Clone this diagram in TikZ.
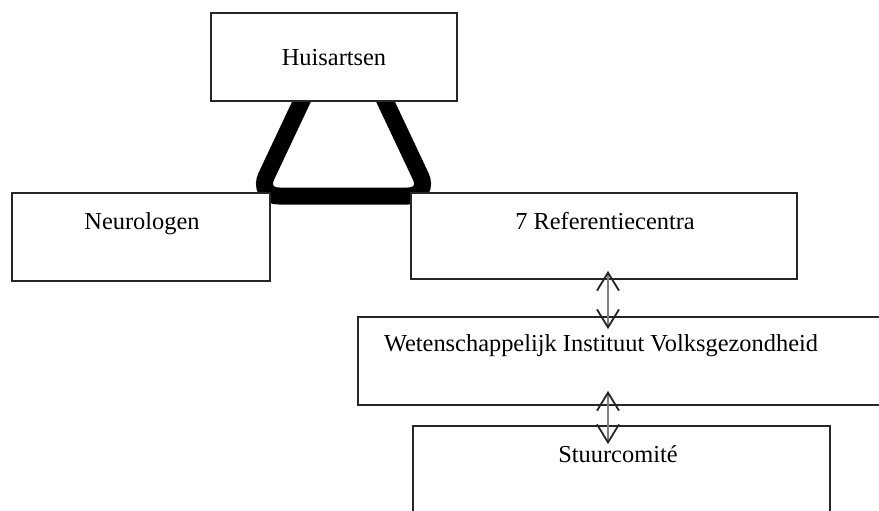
\documentclass[tikz,border=0pt]{standalone}
\usepackage{fontspec}
\setmainfont{Liberation Serif}
\usetikzlibrary{calc}
\usetikzlibrary{arrows.meta}

\begin{document}
\begin{tikzpicture}[x=0.5pt, y=-0.5pt,
  box/.style={draw=black!85, line width=0.9pt, fill=white, inner sep=0pt},
  txt/.style={inner sep=0pt, text height=8pt, text depth=2.5pt, font=\fontsize{12.2}{14}\selectfont},
  link/.style={draw=black!50, line width=1pt, {Straight Barb[length=9pt, width=11pt, line width=0.9pt, color=black!85]}-{Straight Barb[length=9pt, width=11pt, line width=0.9pt, color=black!85]}},
  bond/.style={line width=8.5pt, rounded corners=11pt}]
\clip (0,0) rectangle (879,510);
% thick triangle between the three parties
\draw[bond] (307,90) -- (257,196) -- (430,196) -- (380,90);
% boxes
\node[box, minimum width=123pt, minimum height=44pt] (huis) at (334,57) {};
\node[box, minimum width=129pt, minimum height=44pt] (neuro) at (141,237) {};
\node[box, minimum width=193pt, minimum height=43pt] (ref) at (604,236) {};
\node[box, minimum width=271pt, minimum height=44pt] (wiv) at (629,361) {};
\node[box, minimum width=208.5pt, minimum height=57pt] (stuur) at (621.5,483) {};
% labels
\node[txt] (huis-t) at (334,60) {Huisartsen};
\node[txt] (neuro-t) at (142,224) {Neurologen};
\node[txt] (ref-t) at (605,224) {7 Referentiecentra};
\node[txt] (wiv-t) at (601,346) {Wetenschappelijk Instituut Volksgezondheid};
\node[txt] (stuur-t) at (618,457) {Stuurcomité};
% two-way links
\draw[link, shorten <=-4.5pt, shorten >=-6.5pt] ([xshift=2pt]ref.south) -- ([xshift=2pt]ref.south |- wiv.north);
\draw[link, shorten <=-7.5pt, shorten >=-9.5pt] ([xshift=2pt]ref.south |- wiv.south) -- ([xshift=2pt]ref.south |- stuur.north);
\end{tikzpicture}
\end{document}
